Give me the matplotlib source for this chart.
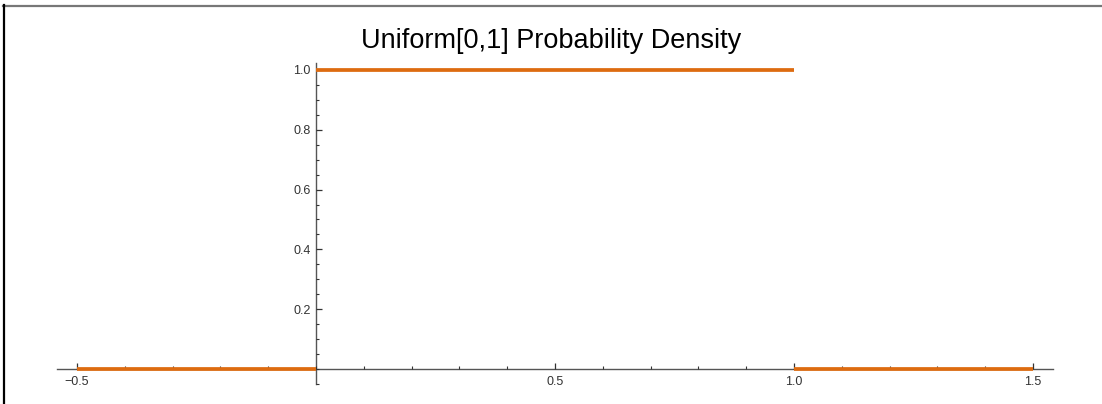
import matplotlib
matplotlib.use('Agg')
import matplotlib.pyplot as plt
from matplotlib.lines import Line2D
from matplotlib.ticker import MultipleLocator, FixedLocator

plt.rcParams['font.family'] = ['Liberation Sans', 'DejaVu Sans']

# piecewise density of Uniform[0,1]
seg_start = [-0.5, 0.0, 1.0]
seg_end = [0.0, 1.0, 1.5]
density = [0.0, 1.0, 0.0]

x_major = [-0.5, 0.5, 1.0, 1.5]
x_labels = ['\u22120.5', '0.5', '1.0', '1.5']
y_major = [0.2, 0.4, 0.6, 0.8, 1.0]
y_labels = ['0.2', '0.4', '0.6', '0.8', '1.0']

fig = plt.figure(figsize=(11.02, 4.04), dpi=100)
ax = fig.add_axes([57 / 1102, 20 / 404, 996 / 1102, 321 / 404])
ax.set_xlim(-0.542, 1.542)
ax.set_ylim(-0.05, 1.023)

orange = '#DD6B10'
for a, b, d in zip(seg_start, seg_end, density):
    ax.plot([a, b], [d, d], color=orange, lw=2.7, solid_capstyle='butt', zorder=2)

# Mathematica style axes through origin
for s in ['top', 'right']:
    ax.spines[s].set_visible(False)
ax.spines['left'].set_position(('data', 0))
ax.spines['bottom'].set_position(('data', 0))
for s in ['left', 'bottom']:
    ax.spines[s].set_color('#555555')
    ax.spines[s].set_linewidth(1.0)
    ax.spines[s].set_zorder(1)

ax.xaxis.set_major_locator(FixedLocator(x_major))
ax.set_xticklabels(x_labels)
ax.xaxis.set_minor_locator(MultipleLocator(0.1))
ax.yaxis.set_major_locator(FixedLocator(y_major))
ax.set_yticklabels(y_labels)
ax.yaxis.set_minor_locator(MultipleLocator(0.05))

ax.tick_params(which='major', direction='in', length=4.5, width=0.9, color='#333333',
               labelsize=9, labelcolor='#333333', pad=5)
ax.tick_params(which='minor', direction='in', length=2.5, width=0.8, color='#333333')
ax.tick_params(axis='y', which='major', pad=4)
for t in ax.xaxis.get_ticklines() + ax.yaxis.get_ticklines():
    t.set_zorder(3)

fig.text(0.5, (404 - 48) / 404, 'Uniform[0,1] Probability Density',
         ha='center', va='baseline', fontsize=19.5, color='black')

# frame of the screenshot
fig.add_artist(Line2D([3 / 1102, 1], [1 - 5.5 / 404, 1 - 5.5 / 404],
                      transform=fig.transFigure, color='#777777', lw=1.6))
fig.add_artist(Line2D([3.5 / 1102, 3.5 / 1102], [0, 1 - 5 / 404],
                      transform=fig.transFigure, color='black', lw=1.6))

fig.savefig('out.png', dpi=100)
